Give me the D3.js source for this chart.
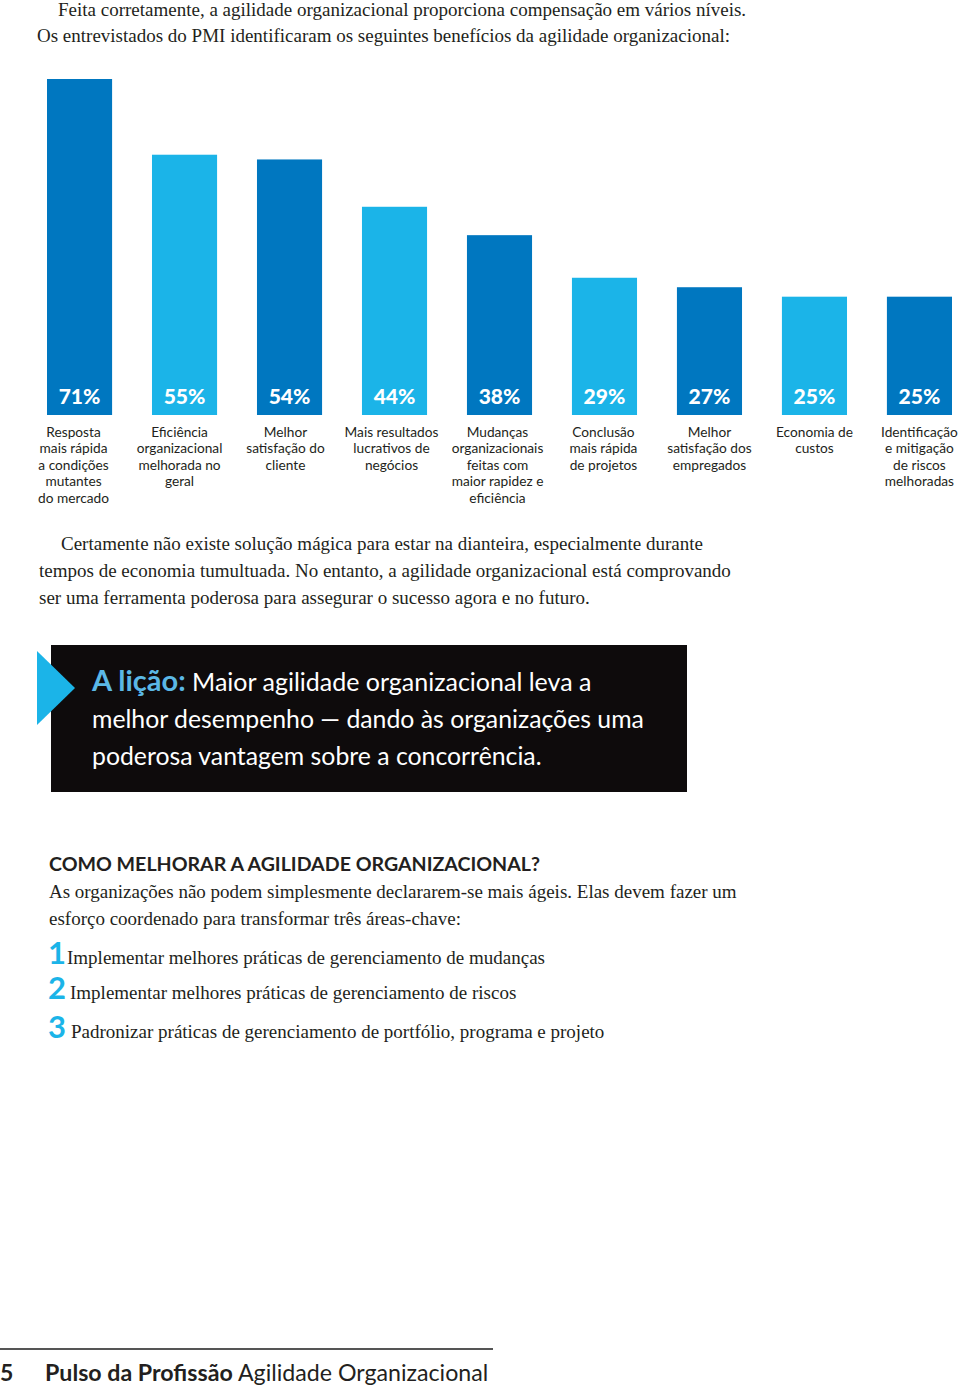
<!DOCTYPE html>
<html><head><meta charset="utf-8">
<script src="https://cdn.jsdelivr.net/npm/d3@7"></script>
<style>
html,body{margin:0;padding:0;background:#fff;}
svg{display:block;}
</style></head>
<body>
<script>
const categories = [
  ["Resposta","mais rápida","a condições","mutantes","do mercado"],
  ["Eficiência","organizacional","melhorada no","geral"],
  ["Melhor","satisfação do","cliente"],
  ["Mais resultados","lucrativos de","negócios"],
  ["Mudanças","organizacionais","feitas com","maior rapidez e","eficiência"],
  ["Conclusão","mais rápida","de projetos"],
  ["Melhor","satisfação dos","empregados"],
  ["Economia de","custos"],
  ["Identificação","e mitigação","de riscos","melhoradas"]
];
const values = [71,55,54,44,38,29,27,25,25];
const valueLabels = ["71%","55%","54%","44%","38%","29%","27%","25%","25%"];
const introLines = [
  "Feita corretamente, a agilidade organizacional proporciona compensação em vários níveis.",
  "Os entrevistados do PMI identificaram os seguintes benefícios da agilidade organizacional:"
];
const paraLines = [
  "Certamente não existe solução mágica para estar na dianteira, especialmente durante",
  "tempos de economia tumultuada. No entanto, a agilidade organizacional está comprovando",
  "ser uma ferramenta poderosa para assegurar o sucesso agora e no futuro."
];
const lessonLines = [
  "Maior agilidade organizacional leva a",
  "melhor desempenho — dando às organizações uma",
  "poderosa vantagem sobre a concorrência."
];
const howLines = [
  "As organizações não podem simplesmente declararem-se mais ágeis. Elas devem fazer um",
  "esforço coordenado para transformar três áreas-chave:"
];
const steps = [
  "Implementar melhores práticas de gerenciamento de mudanças",
  "Implementar melhores práticas de gerenciamento de riscos",
  "Padronizar práticas de gerenciamento de portfólio, programa e projeto"
];

const W = 960, H = 1387;
const dark = "#0077c0", light = "#1bb4e8";
const serif = "'Liberation Serif', 'DejaVu Serif', serif";
const sans = "Lato, 'Open Sans', sans-serif";
const bodySize = 19;

const svg = d3.select("body").append("svg").attr("width", W).attr("height", H);

// intro
svg.append("text").attr("x",58).attr("y",16).attr("font-family",serif).attr("font-size",bodySize).attr("fill","#231f20").text(introLines[0]);
svg.append("text").attr("x",37).attr("y",42).attr("font-family",serif).attr("font-size",bodySize).attr("fill","#231f20").text(introLines[1]);

// chart
const x = d3.scaleBand().domain(d3.range(values.length)).range([47,952]).paddingInner(0.38).paddingOuter(0);
const y = d3.scaleLinear().domain([0,71]).range([415,79]);

const g = svg.append("g");
g.selectAll("rect.bar").data(values).join("rect")
  .attr("class","bar")
  .attr("x",(d,i)=>x(i)).attr("width",x.bandwidth())
  .attr("y",d=>y(d)).attr("height",d=>y(0)-y(d))
  .attr("fill",(d,i)=> i%2===0 ? dark : light);

g.selectAll("text.val").data(valueLabels).join("text")
  .attr("class","val")
  .attr("x",(d,i)=>x(i)+x.bandwidth()/2).attr("y",y(0)-11)
  .attr("text-anchor","middle").attr("font-family",sans).attr("font-weight",900)
  .attr("font-size",21).attr("fill","#fff").text(d=>d);

const cat = g.selectAll("text.cat").data(categories).join("text")
  .attr("class","cat")
  .attr("text-anchor","middle").attr("font-family",sans).attr("font-size",13.7).attr("fill","#231f20");
cat.each(function(lines,i){
  const t = d3.select(this);
  const off = Math.min(0, -6 + i*1);
  lines.forEach((l,j)=>{
    t.append("tspan").attr("x",x(i)+x.bandwidth()/2+off).attr("y",437+j*16.4).text(l);
  });
});

// paragraph
paraLines.forEach((l,i)=>{
  svg.append("text").attr("x", i===0?61:39).attr("y",550+i*27).attr("font-family",serif).attr("font-size",bodySize).attr("fill","#231f20").text(l);
});

// lesson box
svg.append("rect").attr("x",51).attr("y",645).attr("width",636).attr("height",147).attr("fill","#0e0b0c");
svg.append("path").attr("d","M37,651 L75,688 L37,725 Z").attr("fill",light);
const l0 = svg.append("text").attr("x",92).attr("y",691).attr("font-family",sans).attr("fill","#fff").attr("font-size",25);
l0.append("tspan").attr("fill","#5bb8e6").attr("font-weight",700).attr("font-size",29).text("A lição:");
l0.append("tspan").text(" " + lessonLines[0]);
lessonLines.slice(1).forEach((l,i)=>{
  svg.append("text").attr("x",92).attr("y",728+i*37).attr("font-family",sans).attr("font-size",24.8).attr("fill","#fff").text(l);
});

// how section
svg.append("text").attr("x",49).attr("y",871).attr("font-family",sans).attr("font-weight",700).attr("font-size",19.6).attr("fill","#231f20").text("COMO MELHORAR A AGILIDADE ORGANIZACIONAL?");
howLines.forEach((l,i)=>{
  svg.append("text").attr("x",49).attr("y",898+i*27).attr("font-family",serif).attr("font-size",bodySize).attr("fill","#231f20").text(l);
});
const stepY = [964,999,1038];
const stepX = [67,70,71];
steps.forEach((s,i)=>{
  svg.append("text").attr("x",48).attr("y",stepY[i]).attr("font-family",sans).attr("font-weight",700)
    .attr("font-size",31).attr("fill",light).text(String(i+1));
  svg.append("text").attr("x",stepX[i]).attr("y",stepY[i]).attr("font-family",serif)
    .attr("font-size",bodySize).attr("fill","#231f20").text(s);
});

// footer
svg.append("line").attr("x1",0).attr("x2",493).attr("y1",1349).attr("y2",1349).attr("stroke","#555").attr("stroke-width",2);
svg.append("text").attr("x",0).attr("y",1381).attr("font-family",sans).attr("font-weight",700).attr("font-size",23).attr("fill","#231f20").text("5");
const ft = svg.append("text").attr("x",45).attr("y",1381).attr("font-family",sans).attr("font-size",23.2).attr("fill","#231f20");
ft.append("tspan").attr("font-weight",700).text("Pulso da Profissão");
ft.append("tspan").text(" Agilidade Organizacional");
</script>
</body></html>
